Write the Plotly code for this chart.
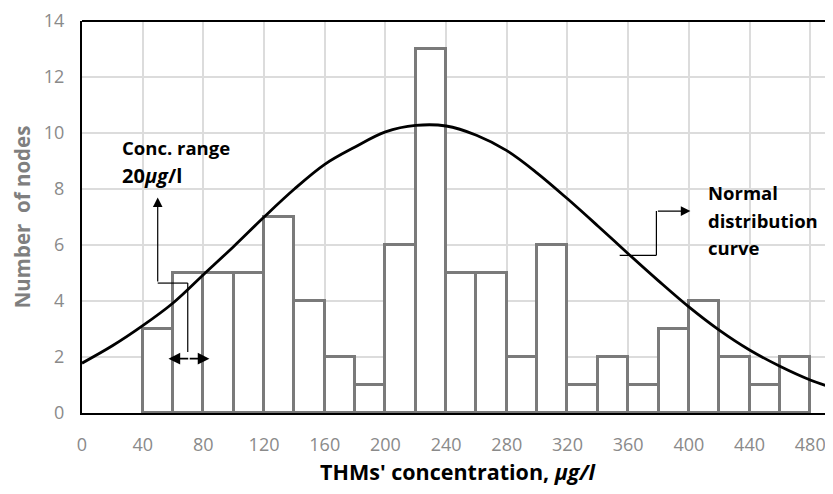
import plotly.graph_objects as go

# Histogram bins (left edges, width 20) and counts
bin_starts = [40, 60, 80, 100, 120, 140, 160, 180, 200, 220, 240, 260, 280,
              300, 320, 340, 360, 380, 400, 420, 440, 460]
counts = [3, 5, 5, 5, 7, 4, 2, 1, 6, 13, 5, 5, 2, 6, 1, 2, 1, 3, 4, 2, 1, 2]
bin_width = 20

# Normal distribution curve
curve_x = [0, 20, 40, 60, 80, 100, 120, 140, 160, 180, 200, 220, 240, 260, 280,
           300, 320, 340, 360, 380, 400, 420, 440, 460, 480, 495]
curve_y = [1.78, 2.4, 3.12, 3.93, 4.94, 5.95, 7.0, 8.0, 8.88, 9.5, 10.04, 10.27,
           10.25, 9.92, 9.37, 8.57, 7.65, 6.68, 5.69, 4.72, 3.79, 2.96, 2.25,
           1.67, 1.18, 0.9]

x_ticks = list(range(0, 481, 40))
y_ticks = list(range(0, 15, 2))

centers = [s + bin_width / 2 for s in bin_starts]

fig = go.Figure()
fig.add_trace(go.Bar(
    x=centers, y=counts, width=bin_width,
    marker=dict(color="white", line=dict(color="#7a7a7a", width=3)),
    showlegend=False, hoverinfo="skip"))
fig.add_trace(go.Scatter(
    x=curve_x, y=curve_y, mode="lines", line_shape="spline",
    line=dict(color="black", width=2.8), showlegend=False))

FONT = "Open Sans"
tick_font = dict(family=FONT, size=18, color="#8a8a8a")

# the page body adds an 8px offset, so the figure is 8px smaller and shifted
fig.update_layout(
    width=825, height=486,
    margin=dict(l=74, r=0, t=13, b=81),
    paper_bgcolor="white", plot_bgcolor="white",
    font=dict(family=FONT),
    xaxis=dict(range=[0, 495], tickvals=x_ticks, ticktext=[str(v) for v in x_ticks],
               tickfont=tick_font, showgrid=True, gridcolor="#dcdcdc", gridwidth=1.5,
               showline=True, linecolor="black", linewidth=2, mirror=False,
               zeroline=False, ticks="", ticklen=0, automargin=False,
               ticklabelstandoff=14, ticklabeloverflow="allow",
               title=dict(text="<b>THMs' concentration, <i>μg/l</i></b>",
                          font=dict(family=FONT, size=21.5, color="black"), standoff=10)),
    yaxis=dict(range=[0, 14], tickvals=y_ticks, tickfont=tick_font,
               showgrid=True, gridcolor="#dcdcdc", gridwidth=1.5,
               showline=True, linecolor="black", linewidth=2,
               zeroline=False, ticks="", ticklen=0, automargin=False,
               ticklabelstandoff=12, ticklabeloverflow="allow",
               title=dict(text="<b>Number  of nodes</b>",
                          font=dict(family=FONT, size=20.5, color="#7f7f7f"), standoff=16)),
    bargap=0,
)

# top border line
fig.add_shape(type="line", xref="paper", yref="paper", x0=0, x1=1, y0=1, y1=1,
              line=dict(color="black", width=2))

# Conc. range annotation lines
ln = dict(color="black", width=1.2)
fig.add_shape(type="line", x0=49.9, x1=69.7, y0=4.64, y1=4.64, line=ln)
fig.add_shape(type="line", x0=69.7, x1=69.7, y0=4.64, y1=2.18, line=ln)
fig.add_annotation(x=49.9, y=7.7, ax=49.9, ay=4.64, xref="x", yref="y",
                   axref="x", ayref="y", showarrow=True, arrowhead=2,
                   arrowsize=1.6, arrowwidth=1.2, arrowcolor="black", text="")
fig.add_annotation(x=84, y=1.94, ax=70, ay=1.94, xref="x", yref="y",
                   axref="x", ayref="y", showarrow=True, arrowhead=2,
                   arrowsize=1.3, arrowwidth=1.8, arrowcolor="black", text="")
fig.add_annotation(x=57, y=1.94, ax=71, ay=1.94, xref="x", yref="y",
                   axref="x", ayref="y", showarrow=True, arrowhead=2,
                   arrowsize=1.3, arrowwidth=1.8, arrowcolor="black", text="")
fig.add_annotation(x=25, y=9.48, xref="x", yref="y", showarrow=False,
                   xanchor="left", yanchor="middle", align="left",
                   text="<b>Conc. range</b>",
                   font=dict(family=FONT, size=18.5, color="black"))
fig.add_annotation(x=25, y=8.49, xref="x", yref="y", showarrow=False,
                   xanchor="left", yanchor="middle", align="left",
                   text="<b>20<i>μg</i>/l</b>",
                   font=dict(family=FONT, size=20, color="black"))

# Normal distribution curve annotation
fig.add_shape(type="line", x0=354.4, x1=378.6, y0=5.63, y1=5.63, line=ln)
fig.add_shape(type="line", x0=378.6, x1=378.6, y0=5.63, y1=7.21, line=ln)
fig.add_annotation(x=401, y=7.21, ax=378.6, ay=7.21, xref="x", yref="y",
                   axref="x", ayref="y", showarrow=True, arrowhead=2,
                   arrowsize=1.6, arrowwidth=1.2, arrowcolor="black", text="")
for txt, yy in [("Normal", 7.87), ("distribution", 6.89), ("curve", 5.92)]:
    fig.add_annotation(x=411.6, y=yy, xref="x", yref="y", showarrow=False,
                       xanchor="left", yanchor="middle", align="left",
                       text="<b>" + txt + "</b>",
                       font=dict(family=FONT, size=18.5, color="black"))

fig.write_html("out.html")
